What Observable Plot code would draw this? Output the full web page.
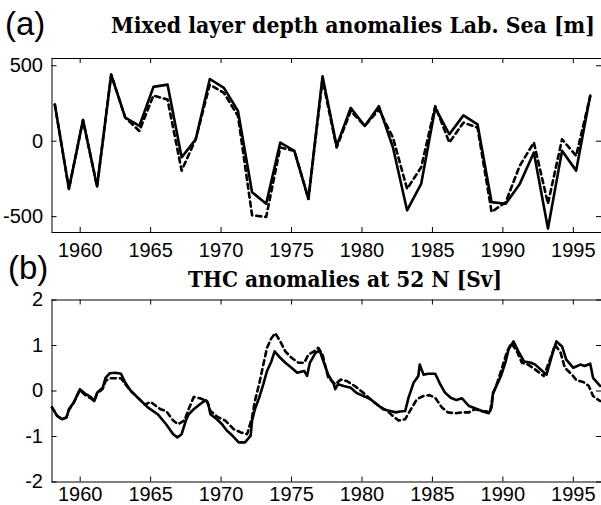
<!DOCTYPE html>
<html><head><meta charset="utf-8">
<script src="https://cdn.jsdelivr.net/npm/d3@7"></script>
<script src="https://cdn.jsdelivr.net/npm/@observablehq/plot@0.6"></script>
<style>
body{margin:0;background:#fff;}
#fig{position:relative;width:601px;height:505px;overflow:hidden;background:#fff;}
.pl{position:absolute;font-family:"Liberation Sans",Arial,sans-serif;font-size:33px;line-height:1;}
.tt{position:absolute;font-family:"DejaVu Serif",serif;font-weight:bold;font-size:22px;line-height:1;white-space:nowrap;transform-origin:0 0;}
#fig svg{position:absolute;left:0;}
</style></head><body><div id="fig"></div>
<script>
// ---- Panel (a): mixed layer depth anomalies, Labrador Sea [m] (winter values, one per year)
const mldYears = [1958,1959,1960,1961,1962,1963,1964,1965,1966,1967,1968,1969,1970,1971,1972,1973,1974,1975,1976,1977,1978,1979,1980,1981,1982,1983,1984,1985,1986,1987,1988,1989,1990,1991,1992,1993,1994,1995,1996];
const mldSolid = [243,-316,140,-300,441,156,101,360,375,-107,13,412,353,200,-338,-414,-9,-64,-382,430,-31,221,101,232,-42,-458,-283,221,46,171,112,-404,-414,-283,-75,-579,-64,-195,303];
const mldDashed = [243,-316,140,-300,441,156,68,303,276,-195,13,375,320,167,-491,-502,-42,-64,-382,408,-42,200,101,210,24,-316,-173,232,-9,123,90,-469,-404,-162,-9,-414,13,-97,298];
const mldSeasonOffset = 0.2; // March value

// ---- Panel (b): THC anomalies at 52 N [Sv]
const thcSolidTime = [1958.0,1958.37,1958.72,1959.03,1959.2,1959.55,1959.98,1960.4,1960.75,1961.0,1961.2,1961.6,1961.8,1962.1,1962.5,1962.9,1963.2,1963.6,1964.1,1964.8,1965.5,1966.1,1966.6,1966.9,1967.2,1967.5,1967.7,1968.06,1968.5,1968.9,1969.1,1969.24,1969.7,1970.07,1970.4,1970.8,1971.25,1971.7,1972.1,1972.2,1972.4,1972.7,1973.0,1973.26,1973.57,1973.8,1974.2,1974.56,1975.0,1975.4,1975.9,1976.1,1976.3,1976.7,1977.0,1977.3,1977.6,1978.0,1978.1,1978.3,1978.7,1979.2,1979.6,1980.1,1980.6,1981.06,1981.5,1982.0,1982.4,1982.7,1983.07,1983.3,1983.66,1984.0,1984.1,1984.37,1984.7,1985.2,1985.55,1985.9,1986.3,1986.7,1987.1,1987.6,1988.2,1988.6,1989.0,1989.2,1989.3,1989.6,1989.9,1990.2,1990.4,1990.75,1991.1,1991.5,1992.0,1992.3,1992.8,1993.1,1993.5,1993.8,1994.2,1994.5,1995.0,1995.5,1995.8,1996.2,1996.4,1996.9];
const thcSolid = [-0.36,-0.55,-0.62,-0.58,-0.40,-0.25,0.04,-0.07,-0.13,-0.22,-0.04,0.07,0.29,0.39,0.40,0.38,0.18,0.0,-0.15,-0.36,-0.51,-0.73,-0.95,-1.02,-0.95,-0.65,-0.51,-0.40,-0.29,-0.20,-0.29,-0.51,-0.62,-0.73,-0.87,-0.98,-1.13,-1.13,-0.98,-0.65,-0.40,-0.15,0.15,0.44,0.65,0.87,0.73,0.62,0.51,0.40,0.44,0.33,0.62,0.84,0.89,0.62,0.36,0.15,0.04,0.15,0.11,0.07,-0.04,-0.11,-0.18,-0.29,-0.40,-0.44,-0.47,-0.45,-0.44,-0.15,0.18,0.33,0.58,0.36,0.38,0.38,0.15,-0.04,-0.15,-0.20,-0.16,-0.33,-0.40,-0.45,-0.49,-0.36,-0.04,0.15,0.36,0.65,0.91,1.09,0.87,0.65,0.62,0.58,0.44,0.36,0.80,1.09,0.98,0.69,0.51,0.58,0.55,0.60,0.29,0.11];
const thcDashedTime = [1958.0,1958.37,1958.72,1959.03,1959.2,1959.55,1959.98,1960.4,1960.75,1961.0,1961.2,1961.6,1961.8,1962.1,1962.5,1962.9,1963.2,1963.6,1964.1,1964.6,1965.0,1965.7,1966.1,1966.6,1966.95,1967.4,1967.7,1968.06,1968.5,1969.0,1969.24,1969.8,1970.3,1970.9,1971.4,1971.85,1972.2,1972.4,1972.7,1973.0,1973.26,1973.57,1973.85,1974.2,1974.56,1975.0,1975.5,1975.9,1976.2,1976.6,1976.9,1977.2,1977.6,1978.1,1978.5,1978.9,1979.5,1980.1,1980.6,1981.2,1981.8,1982.2,1982.6,1983.07,1983.4,1983.9,1984.37,1984.8,1985.2,1985.67,1986.1,1986.6,1987.1,1987.6,1988.0,1988.6,1989.1,1989.3,1989.6,1989.9,1990.3,1990.6,1991.0,1991.35,1991.8,1992.3,1992.9,1993.4,1993.7,1994.1,1994.4,1994.9,1995.25,1995.7,1996.1,1996.4,1996.9];
const thcDashed = [-0.36,-0.55,-0.62,-0.58,-0.42,-0.25,0.02,-0.10,-0.16,-0.22,-0.06,0.05,0.22,0.28,0.28,0.28,0.15,0.0,-0.15,-0.30,-0.24,-0.40,-0.44,-0.65,-0.73,-0.65,-0.40,-0.13,-0.16,-0.22,-0.44,-0.58,-0.65,-0.84,-0.91,-0.95,-0.58,-0.22,0.15,0.58,0.95,1.16,1.27,1.09,0.87,0.73,0.62,0.62,0.80,0.87,0.95,0.80,0.30,0.15,0.25,0.22,0.11,-0.04,-0.18,-0.33,-0.44,-0.55,-0.65,-0.62,-0.44,-0.18,-0.11,-0.09,-0.15,-0.36,-0.47,-0.49,-0.47,-0.47,-0.40,-0.45,-0.44,-0.07,0.18,0.47,0.87,1.05,0.87,0.62,0.58,0.47,0.33,0.73,1.02,0.84,0.51,0.36,0.23,0.20,0.11,-0.11,-0.22];

// ---- Axes
const xDomain = [1958, 1997];
const xTicks = [1960,1965,1970,1975,1980,1985,1990,1995];
const mldDomain = [-605, 548];
const mldTicks = [-500, 0, 500];
const thcDomain = [-2, 2];
const thcTicks = [-2, -1, 0, 1, 2];

const fig = document.getElementById("fig");
const W = 601, ML = 51.5;

function panel({top, height, marginTop, marginBottom, yDomain, yTicks, xPad, solid, dashed}) {
  const frameW = W - ML;
  const frameH = height - marginTop - marginBottom;
  const t = 5;
  const svg = Plot.plot({
    width: W, height, marginLeft: ML, marginRight: 0, marginTop, marginBottom,
    x: {domain: xDomain},
    y: {domain: yDomain},
    style: {fontFamily: "'Liberation Sans', Arial, sans-serif", fontSize: "20px", color: "black", background: "transparent", overflow: "visible"},
    marks: [
      Plot.ruleY([yDomain[0], yDomain[1]], {stroke: "black", strokeWidth: 1}),
      Plot.ruleX([xDomain[0]], {stroke: "black", strokeWidth: 1}),
      Plot.tickX(xTicks, {x: d => d, insetBottom: frameH - t, stroke: "black"}),
      Plot.tickX(xTicks, {x: d => d, insetTop: frameH - t, stroke: "black"}),
      Plot.tickY(yTicks, {y: d => d, insetRight: frameW - t, stroke: "black"}),
      Plot.tickY(yTicks, {y: d => d, insetLeft: frameW - t, stroke: "black"}),
      Plot.axisX(xTicks, {tickSize: 0, tickPadding: xPad, tickFormat: d => String(d), label: null}),
      Plot.axisY(yTicks, {tickSize: 0, tickPadding: 9, tickFormat: d => String(d), label: null}),
      Plot.line(dashed.x.map((x, i) => ({x, y: dashed.y[i]})), {x: "x", y: "y", stroke: "black", strokeWidth: 2.6, strokeDasharray: "5,4", strokeLinejoin: "round"}),
      Plot.line(solid.x.map((x, i) => ({x, y: solid.y[i]})), {x: "x", y: "y", stroke: "black", strokeWidth: 2.6, strokeLinejoin: "round"})
    ]
  });
  svg.style.top = top + "px";
  fig.appendChild(svg);
}

const mldTime = mldYears.map(y => y + mldSeasonOffset);
panel({top: 0, height: 265, marginTop: 58, marginBottom: 33, yDomain: mldDomain, yTicks: mldTicks, xPad: 10,
  solid: {x: mldTime, y: mldSolid}, dashed: {x: mldTime, y: mldDashed}});
panel({top: 265, height: 240, marginTop: 34.5, marginBottom: 23.5, yDomain: thcDomain, yTicks: thcTicks, xPad: 5,
  solid: {x: thcSolidTime, y: thcSolid}, dashed: {x: thcDashedTime, y: thcDashed}});

function label(text, cls, left, top, targetW) {
  const d = document.createElement("div");
  d.className = cls; d.textContent = text;
  d.style.left = left + "px"; d.style.top = top + "px";
  fig.appendChild(d);
  if (targetW) {
    const w = d.getBoundingClientRect().width;
    d.style.transform = `scaleX(${targetW / w})`;
  }
}
label("(a)", "pl", 5, 7);
label("(b)", "pl", 8, 251);
label("Mixed layer depth anomalies Lab. Sea [m]", "tt", 111, 14, 484);
label("THC anomalies at 52 N [Sv]", "tt", 188, 268, 314);
</script></body></html>
